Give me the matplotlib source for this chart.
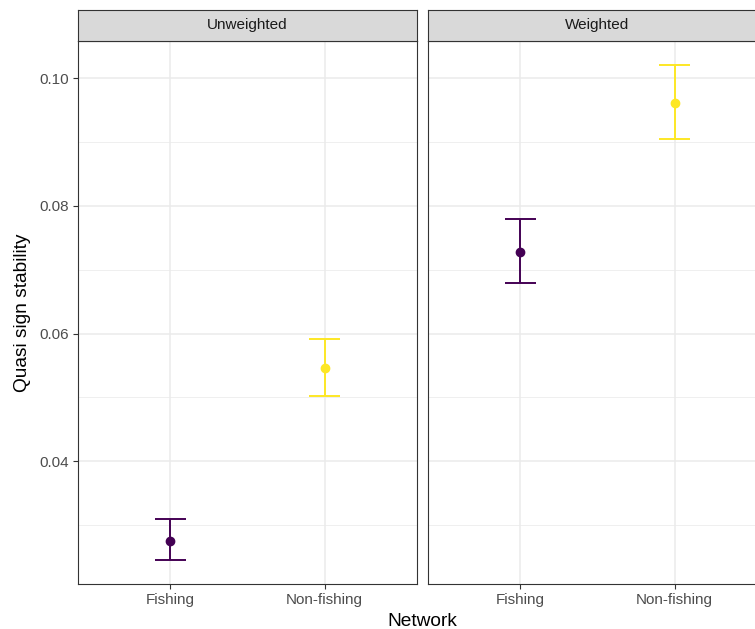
import numpy as np
import matplotlib
matplotlib.use("Agg")
import matplotlib.pyplot as plt

plt.rcParams['font.family'] = ['Liberation Sans', 'DejaVu Sans']

# data
networks = ['Fishing', 'Non-fishing']
panels = ['Unweighted', 'Weighted']
unw_mean = [0.0276, 0.0546]
unw_low = [0.0246, 0.0503]
unw_high = [0.0310, 0.0592]
w_mean = [0.0727, 0.0961]
w_low = [0.0679, 0.0905]
w_high = [0.0780, 0.1020]
colors = ['#440154', '#FDE725']

W, H = 755, 629
fig = plt.figure(figsize=(W / 100, H / 100), dpi=100)

# panel geometry in pixels (right panel runs off the right edge, as in the reference)
pan_left = [78, 428]
pan_w = 339
pan_top, pan_bot = 41, 584
strip_top = 10

ylo, yhi = 0.0208, 0.1058
series = [(unw_mean, unw_low, unw_high), (w_mean, w_low, w_high)]
x = np.arange(1, len(networks) + 1)

for i, (name, (m, lo, hi)) in enumerate(zip(panels, series)):
    ax = fig.add_axes([pan_left[i] / W, 1 - pan_bot / H, pan_w / W, (pan_bot - pan_top) / H])
    ax.set_xlim(0.4, 2.6)
    ax.set_ylim(ylo, yhi)
    ax.set_yticks([0.04, 0.06, 0.08, 0.10])
    ax.set_yticks([0.03, 0.05, 0.07, 0.09], minor=True)
    ax.set_xticks(x)
    ax.set_xticklabels(networks)
    ax.grid(True, which='major', color='#EBEBEB', linewidth=1.1, zorder=0)
    ax.grid(True, which='minor', axis='y', color='#EBEBEB', linewidth=0.55, zorder=0)
    ax.set_axisbelow(True)
    for s in ax.spines.values():
        s.set_color('#333333')
        s.set_linewidth(0.8)
    ax.tick_params(which='major', length=3.5, width=0.8, color='#333333',
                   labelsize=11, labelcolor='#4D4D4D', pad=3)
    ax.tick_params(which='minor', length=0)
    if i == 0:
        ax.set_yticklabels(['0.04', '0.06', '0.08', '0.10'])
        ax.set_ylabel('Quasi sign stability', fontsize=13.8, labelpad=6)
    else:
        ax.tick_params(axis='y', which='both', left=False, labelleft=False)

    for j in range(len(networks)):
        ax.vlines(x[j], lo[j], hi[j], color=colors[j], linewidth=1.4, zorder=3)
        ax.hlines([lo[j], hi[j]], x[j] - 0.1, x[j] + 0.1, color=colors[j], linewidth=1.4, zorder=3)
        ax.plot(x[j], m[j], 'o', color=colors[j], markersize=6, zorder=4)

    # facet strip
    sax = fig.add_axes([pan_left[i] / W, 1 - pan_top / H, pan_w / W, (pan_top - strip_top) / H])
    sax.set_facecolor('#D9D9D9')
    sax.set_xticks([])
    sax.set_yticks([])
    for s in sax.spines.values():
        s.set_color('#333333')
        s.set_linewidth(0.8)
    sax.text(0.5, 0.5, name, ha='center', va='center', fontsize=11, color='#1A1A1A',
             transform=sax.transAxes)

fig.text(422 / W, 1 - 621 / H, 'Network', ha='center', va='center', fontsize=13.8)

fig.savefig('out.png', dpi=100)
